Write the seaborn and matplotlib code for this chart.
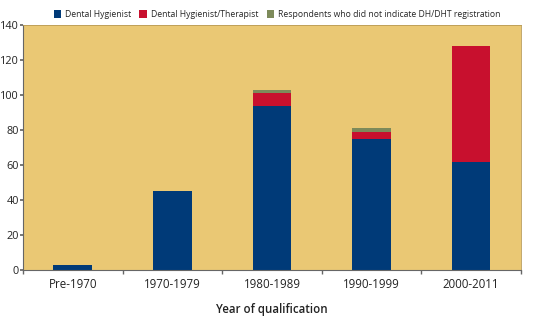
import numpy as np
import pandas as pd
import matplotlib
matplotlib.use("Agg")
import matplotlib.pyplot as plt
import seaborn as sns

# Values
periods = ["Pre-1970", "1970-1979", "1980-1989", "1990-1999", "2000-2011"]
dental_hygienist = [3, 45, 94, 75, 62]
dental_hyg_therapist = [0, 0, 7, 4, 66]
not_indicated = [0, 0, 2, 2, 0]

series_names = ["Dental Hygienist", "Dental Hygienist/Therapist",
                "Respondents who did not indicate DH/DHT registration"]
colors = ["#003A78", "#C8102E", "#7D8A5A"]

sns.set_theme(style="white")
plt.rcParams['font.family'] = ['Open Sans', 'DejaVu Sans']

fig = plt.figure(figsize=(5.5, 3.17), dpi=100)
ax = fig.add_axes([0.042, 0.148, 0.905, 0.773])
ax.set_facecolor("#EAC874")

# Stacked bars: draw cumulative totals from top down so each layer shows
df = pd.DataFrame({"period": periods,
                   "dh": dental_hygienist,
                   "dht": dental_hyg_therapist,
                   "ni": not_indicated})
df["c1"] = df["dh"]
df["c2"] = df["dh"] + df["dht"]
df["c3"] = df["c2"] + df["ni"]

for col, color, name in zip(["c3", "c2", "c1"], colors[::-1], series_names[::-1]):
    sns.barplot(data=df, x="period", y=col, color=color, width=0.39,
                saturation=1, ax=ax, label=name, edgecolor="none")

ax.set_xlim(-0.5, 4.5)
ax.set_ylim(0, 140)
ax.set_yticks(np.arange(0, 141, 20))
ax.set_xticks(np.arange(-0.5, 4.6, 1), minor=True)
ax.tick_params(axis="x", which="major", length=0, labelsize=8.3, pad=6, colors="#222222")
ax.tick_params(axis="x", which="minor", length=3, color="#666666", direction="out", bottom=True)
ax.tick_params(axis="y", length=2.5, color="#666666", direction="out", left=True,
               labelsize=7.8, pad=0.5, colors="#222222")
ax.set_ylabel("")
ax.set_xlabel("Year of qualification", fontsize=8.3, fontweight="semibold",
              labelpad=8, color="#222222")

for side in ["left", "bottom"]:
    ax.spines[side].set_color("#666666")
    ax.spines[side].set_linewidth(0.8)
for side in ["top", "right"]:
    ax.spines[side].set_color("#B89A55")
    ax.spines[side].set_linewidth(0.6)

handles, labels = ax.get_legend_handles_labels()
order = [labels.index(n) for n in series_names]
ax.legend([handles[i] for i in order], [labels[i] for i in order],
          loc="lower center", bbox_to_anchor=(0.51, 1.0), ncol=3, frameon=False,
          fontsize=6.2, handlelength=0.9, handleheight=0.9, handletextpad=0.4,
          columnspacing=1.0, borderaxespad=0.3)

fig.savefig("out.png", dpi=100)
